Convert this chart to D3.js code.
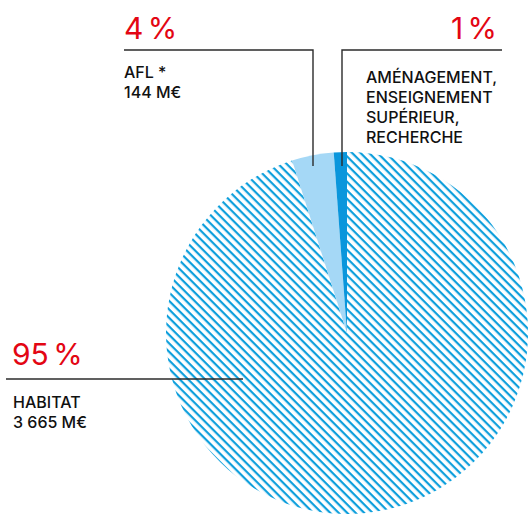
<!DOCTYPE html>
<html><head><meta charset="utf-8">
<script src="https://cdn.jsdelivr.net/npm/d3@7"></script>
<style>body{margin:0;background:#fff}svg{display:block}text{font-family:Inter,Roboto,"Noto Sans",sans-serif}</style>
</head><body>
<script>
const categories = ["HABITAT", "AFL *", "AMÉNAGEMENT, ENSEIGNEMENT SUPÉRIEUR, RECHERCHE"];
const values = [3665, 144, 45];
const percentLabels = ["95 %", "4 %", "1 %"];
const amountLabels = ["3 665 M€", "144 M€", ""];

const W = 529, H = 515;
const svg = d3.select("body").append("svg").attr("width", W).attr("height", H);
const defs = svg.append("defs");
const pat = defs.append("pattern").attr("id", "hatch").attr("patternUnits", "userSpaceOnUse")
  .attr("width", 6).attr("height", 6).attr("patternTransform", "rotate(45)");
pat.append("rect").attr("width", 6).attr("height", 6).attr("fill", "#fff");
pat.append("rect").attr("x", 0).attr("y", 0).attr("width", 6).attr("height", 2.2).attr("fill", "#0e9fdc");

const cx = 347, cy = 333, R = 181;
const pie = d3.pie().sort(null).value(d => d)(values);
const arc = d3.arc().innerRadius(0).outerRadius(R);
const fills = ["url(#hatch)", "#a5d8f6", "#0a96dc"];
svg.append("g").attr("transform", `translate(${cx},${cy})`)
  .selectAll("path").data(pie).join("path")
  .attr("d", arc).attr("fill", (d, i) => fills[i]);

const red = "#e30613", ink = "#111";
const lineCol = "#2b2b2b";
const g = svg.append("g").attr("fill", "none").attr("stroke", lineCol).attr("stroke-width", 1.4);
g.append("path").attr("d", "M124,50H313V166");
g.append("path").attr("d", "M502,50H342V166");
g.append("path").attr("d", "M6,379H243");

function pct(x, y, t, anchor) {
  svg.append("text").attr("x", x).attr("y", y).attr("fill", red).attr("font-size", 30)
    .attr("font-weight", 400).attr("word-spacing", -4)
    .attr("text-anchor", anchor || "start").text(t);
}
pct(124, 39, percentLabels[1]);
pct(497, 39, percentLabels[2], "end");
pct(12, 365, percentLabels[0]);

function lines(x, y, arr, dy, fs) {
  const t = svg.append("text").attr("x", x).attr("y", y).attr("fill", ink)
    .attr("font-size", fs).attr("font-weight", 500);
  arr.forEach((s, i) => t.append("tspan").attr("x", x).attr("y", y + i * dy).text(s));
}
lines(124, 78, [categories[1], amountLabels[1]], 20, 16);
lines(366, 83, ["AMÉNAGEMENT,", "ENSEIGNEMENT", "SUPÉRIEUR,", "RECHERCHE"], 20, 16);
lines(13, 408, [categories[0], amountLabels[0]], 19.5, 16);
</script>
</body></html>
